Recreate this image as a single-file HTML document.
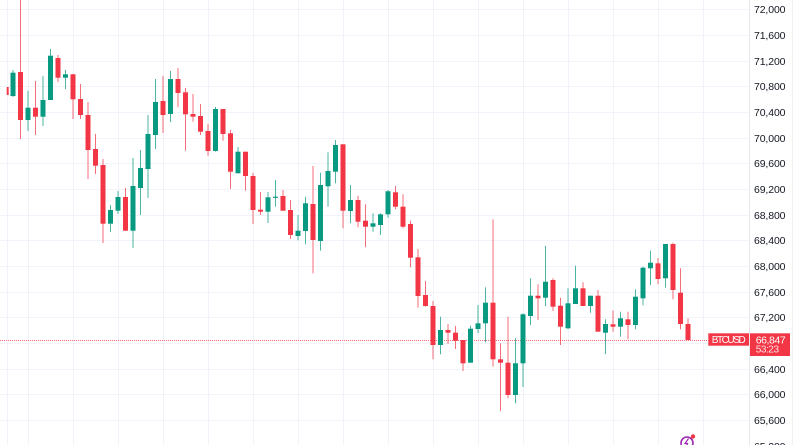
<!DOCTYPE html>
<html><head><meta charset="utf-8"><style>
html,body{margin:0;padding:0;background:#fff;}
svg{display:block;}
text{font-family:"Liberation Sans",sans-serif;}
</style></head><body>
<svg width="800" height="445" viewBox="0 0 800 445" xmlns="http://www.w3.org/2000/svg">
<rect x="0" y="0" width="800" height="445" fill="#fff"/>
<g stroke="#f0f3fa" stroke-width="1">
<line x1="0" y1="9.5" x2="749" y2="9.5"/><line x1="0" y1="35.5" x2="749" y2="35.5"/><line x1="0" y1="61.5" x2="749" y2="61.5"/><line x1="0" y1="86.5" x2="749" y2="86.5"/><line x1="0" y1="112.5" x2="749" y2="112.5"/><line x1="0" y1="138.5" x2="749" y2="138.5"/><line x1="0" y1="163.5" x2="749" y2="163.5"/><line x1="0" y1="189.5" x2="749" y2="189.5"/><line x1="0" y1="215.5" x2="749" y2="215.5"/><line x1="0" y1="240.5" x2="749" y2="240.5"/><line x1="0" y1="266.5" x2="749" y2="266.5"/><line x1="0" y1="292.5" x2="749" y2="292.5"/><line x1="0" y1="317.5" x2="749" y2="317.5"/><line x1="0" y1="343.5" x2="749" y2="343.5"/><line x1="0" y1="369.5" x2="749" y2="369.5"/><line x1="0" y1="394.5" x2="749" y2="394.5"/><line x1="0" y1="420.5" x2="749" y2="420.5"/>
<line x1="7.5" y1="0" x2="7.5" y2="445"/><line x1="28.5" y1="0" x2="28.5" y2="445"/><line x1="73.5" y1="0" x2="73.5" y2="445"/><line x1="118.5" y1="0" x2="118.5" y2="445"/><line x1="163.5" y1="0" x2="163.5" y2="445"/><line x1="208.5" y1="0" x2="208.5" y2="445"/><line x1="253.5" y1="0" x2="253.5" y2="445"/><line x1="298.5" y1="0" x2="298.5" y2="445"/><line x1="343.5" y1="0" x2="343.5" y2="445"/><line x1="388.5" y1="0" x2="388.5" y2="445"/><line x1="433.5" y1="0" x2="433.5" y2="445"/><line x1="478.5" y1="0" x2="478.5" y2="445"/><line x1="523.5" y1="0" x2="523.5" y2="445"/><line x1="568.5" y1="0" x2="568.5" y2="445"/><line x1="613.5" y1="0" x2="613.5" y2="445"/><line x1="658.5" y1="0" x2="658.5" y2="445"/><line x1="703.5" y1="0" x2="703.5" y2="445"/>
</g>
<line x1="749.5" y1="0" x2="749.5" y2="445" stroke="#e6e8ee"/>
<line x1="792.5" y1="0" x2="792.5" y2="445" stroke="#eef0f4"/>
<!-- current price dotted line -->
<line x1="0" y1="340.5" x2="708" y2="340.5" stroke="#F23645" stroke-width="1" stroke-dasharray="1 1" opacity="0.75"/>
<!-- red wicks -->
<g fill="#F23645" opacity="0.72">
<rect x="20" y="0" width="1" height="139"/><rect x="35" y="81" width="1" height="54"/><rect x="57.5" y="55" width="1" height="27"/><rect x="72.5" y="74" width="1" height="45"/><rect x="80" y="84" width="1" height="35"/><rect x="87.5" y="102" width="1" height="77"/><rect x="95" y="134" width="1" height="40"/><rect x="102.5" y="159" width="1" height="84"/><rect x="125" y="188" width="1" height="43"/><rect x="162.5" y="76" width="1" height="57"/><rect x="177.5" y="68" width="1" height="39"/><rect x="185" y="88" width="1" height="62.7"/><rect x="192.5" y="94" width="1" height="27.7"/><rect x="200" y="104" width="1" height="31"/><rect x="207.5" y="124" width="1" height="31.7"/><rect x="222.5" y="109" width="1" height="31.7"/><rect x="230" y="130" width="1" height="59"/><rect x="245" y="151.7" width="1" height="39"/><rect x="252.5" y="173" width="1" height="51"/><rect x="260" y="192" width="1" height="23"/><rect x="282.5" y="190" width="1" height="20.7"/><rect x="290" y="200" width="1" height="39"/><rect x="312.5" y="166" width="1" height="107.3"/><rect x="342.5" y="144.3" width="1" height="84"/><rect x="357.5" y="195.7" width="1" height="31.6"/><rect x="365" y="204.3" width="1" height="43"/><rect x="395" y="186" width="1" height="23.3"/><rect x="402.5" y="194.3" width="1" height="34"/><rect x="410" y="220.7" width="1" height="46.6"/><rect x="417.5" y="249" width="1" height="58.7"/><rect x="425" y="281" width="1" height="25.7"/><rect x="432.5" y="301" width="1" height="58.3"/><rect x="447.5" y="324" width="1" height="20"/><rect x="455" y="326" width="1" height="23"/><rect x="462.5" y="340" width="1" height="31"/><rect x="492.5" y="219.3" width="1" height="147.4"/><rect x="500" y="343.3" width="1" height="67.7"/><rect x="507.5" y="316.7" width="1" height="81.6"/><rect x="537.5" y="284.3" width="1" height="35.7"/><rect x="552.5" y="278.3" width="1" height="32.7"/><rect x="560" y="297.7" width="1" height="47.3"/><rect x="582.5" y="282.3" width="1" height="23.7"/><rect x="597.5" y="290" width="1" height="41.7"/><rect x="612.5" y="310.7" width="1" height="21"/><rect x="627.5" y="311.7" width="1" height="27.6"/><rect x="657.5" y="258" width="1" height="26.3"/><rect x="672.5" y="242.7" width="1" height="56.6"/><rect x="680" y="268.3" width="1" height="61"/><rect x="687.5" y="318.3" width="1" height="21.7"/>
</g>
<!-- green wicks -->
<g fill="#089981" opacity="0.72">
<rect x="12.5" y="70" width="1" height="27"/><rect x="27.5" y="90.7" width="1" height="40.3"/><rect x="42.5" y="76" width="1" height="50"/><rect x="50" y="49" width="1" height="51"/><rect x="65" y="70" width="1" height="19"/><rect x="110" y="205" width="1" height="27"/><rect x="117.5" y="191" width="1" height="23"/><rect x="132.5" y="158" width="1" height="90"/><rect x="140" y="150" width="1" height="65"/><rect x="147.5" y="115" width="1" height="83"/><rect x="155" y="79" width="1" height="70"/><rect x="170" y="71" width="1" height="51"/><rect x="215" y="107" width="1" height="44.7"/><rect x="237.5" y="147" width="1" height="26.3"/><rect x="267.5" y="192" width="1" height="31"/><rect x="275" y="180" width="1" height="26.7"/><rect x="297.5" y="215" width="1" height="25.3"/><rect x="305" y="196.7" width="1" height="47.6"/><rect x="320" y="172.7" width="1" height="78"/><rect x="327.5" y="152.3" width="1" height="54.4"/><rect x="335" y="140" width="1" height="43.3"/><rect x="350" y="185" width="1" height="38.3"/><rect x="372.5" y="213.3" width="1" height="18.4"/><rect x="380" y="213.3" width="1" height="21.7"/><rect x="387.5" y="190" width="1" height="27.7"/><rect x="440" y="316.7" width="1" height="37.6"/><rect x="470" y="325.7" width="1" height="37"/><rect x="477.5" y="305" width="1" height="28.3"/><rect x="485" y="287.3" width="1" height="55"/><rect x="515" y="338.3" width="1" height="65"/><rect x="522.5" y="313.3" width="1" height="73.7"/><rect x="530" y="278.3" width="1" height="46.7"/><rect x="545" y="246" width="1" height="60"/><rect x="567.5" y="288.3" width="1" height="40.7"/><rect x="575" y="265.7" width="1" height="38.3"/><rect x="590" y="295.7" width="1" height="17"/><rect x="605" y="319.3" width="1" height="34.7"/><rect x="620" y="311.7" width="1" height="25"/><rect x="635" y="289.3" width="1" height="40"/><rect x="642.5" y="266.7" width="1" height="38.6"/><rect x="650" y="250.7" width="1" height="34.3"/><rect x="665" y="244" width="1" height="43.7"/>
</g>
<!-- red bodies -->
<g fill="#F23645">
<rect x="6.7" y="87" width="2" height="8"/>
<rect x="18" y="72" width="5" height="48"/><rect x="33" y="107.7" width="5" height="9"/><rect x="55.5" y="58" width="5" height="19.7"/><rect x="70.5" y="74.3" width="5" height="25"/><rect x="78" y="99" width="5" height="16"/><rect x="85.5" y="115" width="5" height="35"/><rect x="93" y="149" width="5" height="16.7"/><rect x="100.5" y="165" width="5" height="58.7"/><rect x="123" y="197" width="5" height="33.7"/><rect x="160.5" y="101" width="5" height="14"/><rect x="175.5" y="79" width="5" height="14"/><rect x="183" y="92.3" width="5" height="22"/><rect x="190.5" y="114" width="5" height="2.7"/><rect x="198" y="116" width="5" height="15.7"/><rect x="205.5" y="131" width="5" height="20"/><rect x="220.5" y="109" width="5" height="25"/><rect x="228" y="133.3" width="5" height="38.4"/><rect x="243" y="151.7" width="5" height="24.3"/><rect x="250.5" y="176" width="5" height="34"/><rect x="258" y="209.7" width="5" height="2"/><rect x="280.5" y="196" width="5" height="14.7"/><rect x="288" y="210" width="5" height="25"/><rect x="310.5" y="204" width="5" height="36"/><rect x="340.5" y="144.3" width="5" height="66.4"/><rect x="355.5" y="200" width="5" height="21.7"/><rect x="363" y="220.7" width="5" height="6"/><rect x="393" y="192.3" width="5" height="14.4"/><rect x="400.5" y="206.7" width="5" height="20"/><rect x="408" y="224" width="5" height="33.7"/><rect x="415.5" y="257.3" width="5" height="38.7"/><rect x="423" y="295" width="5" height="11"/><rect x="430.5" y="306" width="5" height="39"/><rect x="445.5" y="330" width="5" height="2.7"/><rect x="453" y="332.7" width="5" height="8"/><rect x="460.5" y="340" width="5" height="23.3"/><rect x="490.5" y="302.7" width="5" height="56.6"/><rect x="498" y="359.3" width="5" height="3.4"/><rect x="505.5" y="362.7" width="5" height="32.3"/><rect x="535.5" y="295.7" width="5" height="2.6"/><rect x="550.5" y="280" width="5" height="26.7"/><rect x="558" y="305.7" width="5" height="21"/><rect x="580.5" y="288.3" width="5" height="17.7"/><rect x="595.5" y="295.7" width="5" height="36"/><rect x="610.5" y="324.3" width="5" height="2.4"/><rect x="625.5" y="319.3" width="5" height="5.7"/><rect x="655.5" y="263.3" width="5" height="15.7"/><rect x="670.5" y="244" width="5" height="46"/><rect x="678" y="292.7" width="5" height="31.3"/><rect x="685.5" y="324" width="5" height="16"/>
</g>
<!-- green bodies -->
<g fill="#089981">
<rect x="10.5" y="72.7" width="5" height="23.3"/><rect x="25.5" y="107.7" width="5" height="12.3"/><rect x="40.5" y="100" width="5" height="16.7"/><rect x="48" y="55.7" width="5" height="44.3"/><rect x="63" y="74.3" width="5" height="3.4"/><rect x="108" y="210" width="5" height="13.7"/><rect x="115.5" y="197" width="5" height="13.7"/><rect x="130.5" y="186" width="5" height="44.7"/><rect x="138" y="168" width="5" height="20"/><rect x="145.5" y="134" width="5" height="35"/><rect x="153" y="102" width="5" height="33"/><rect x="168" y="79" width="5" height="35"/><rect x="213" y="109" width="5" height="42"/><rect x="235.5" y="151.7" width="5" height="21.6"/><rect x="265.5" y="197.3" width="5" height="14.4"/><rect x="273" y="196.7" width="5" height="1.2"/><rect x="295.5" y="230.7" width="5" height="5.3"/><rect x="303" y="203.3" width="5" height="27.7"/><rect x="318" y="185" width="5" height="56"/><rect x="325.5" y="171" width="5" height="15.3"/><rect x="333" y="145" width="5" height="26.7"/><rect x="348" y="200" width="5" height="11"/><rect x="370.5" y="223.3" width="5" height="3.4"/><rect x="378" y="214.3" width="5" height="10.7"/><rect x="385.5" y="191.3" width="5" height="23"/><rect x="438" y="330" width="5" height="15"/><rect x="468" y="328.7" width="5" height="34"/><rect x="475.5" y="323.3" width="5" height="5.7"/><rect x="483" y="302.7" width="5" height="20.6"/><rect x="513" y="363.3" width="5" height="31.7"/><rect x="520.5" y="314.3" width="5" height="49"/><rect x="528" y="295.7" width="5" height="20.3"/><rect x="543" y="281.7" width="5" height="16"/><rect x="565.5" y="303.3" width="5" height="25"/><rect x="573" y="288.3" width="5" height="15.7"/><rect x="588" y="295.7" width="5" height="10.3"/><rect x="603" y="324" width="5" height="8.7"/><rect x="618" y="318.3" width="5" height="8.4"/><rect x="633" y="296.7" width="5" height="28.3"/><rect x="640.5" y="267.7" width="5" height="30.6"/><rect x="648" y="262.7" width="5" height="5.6"/><rect x="663" y="244" width="5" height="34.3"/>
</g>
<!-- logo -->
<g>
<circle cx="687" cy="443" r="6" fill="none" stroke="#9c27b0" stroke-width="1.6"/>
<path d="M688.5 438.5 L685 443.5 L687.5 443.5 L686 447.5" fill="none" stroke="#9c27b0" stroke-width="1.2"/>
<circle cx="693" cy="436.5" r="2.2" fill="#F23645"/>
</g>
<!-- price axis labels -->
<g fill="#131722" font-size="10.5">
<text x="754" y="13" textLength="31.5">72,000</text>
<text x="754" y="39" textLength="31.5">71,600</text>
<text x="754" y="65" textLength="31.5">71,200</text>
<text x="754" y="90" textLength="31.5">70,800</text>
<text x="754" y="116" textLength="31.5">70,400</text>
<text x="754" y="142" textLength="31.5">70,000</text>
<text x="754" y="167" textLength="31.5">69,600</text>
<text x="754" y="193" textLength="31.5">69,200</text>
<text x="754" y="219" textLength="31.5">68,800</text>
<text x="754" y="244" textLength="31.5">68,400</text>
<text x="754" y="270" textLength="31.5">68,000</text>
<text x="754" y="296" textLength="31.5">67,600</text>
<text x="754" y="321" textLength="31.5">67,200</text>
<text x="754" y="373" textLength="31.5">66,400</text>
<text x="754" y="398" textLength="31.5">66,000</text>
<text x="754" y="424" textLength="31.5">65,600</text>
<text x="754" y="450" textLength="31.5">65,200</text>
</g>
<!-- price labels -->
<rect x="708.3" y="333.3" width="40.7" height="12.4" fill="#F23645"/>
<text x="711.7" y="343.2" fill="#fff" font-size="10" textLength="34">BTCUSD</text>
<rect x="750" y="333.3" width="40" height="22.7" fill="#F23645"/>
<text x="755.7" y="343.6" fill="#fff" font-size="10.5" textLength="30">66,847</text>
<text x="755.7" y="352.6" fill="#fff" fill-opacity="0.85" font-size="10" textLength="23.3">53:23</text>
</svg>
</body></html>
